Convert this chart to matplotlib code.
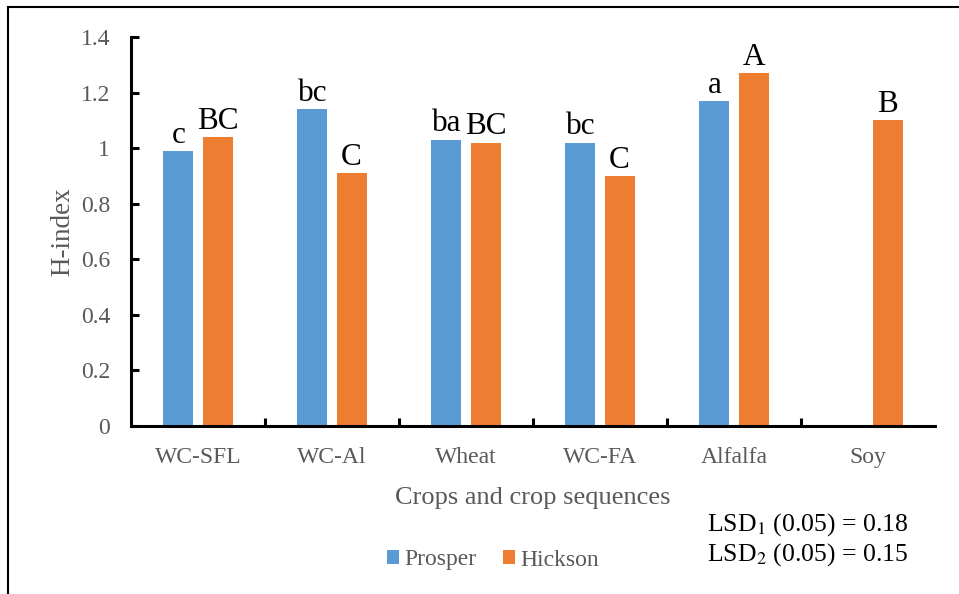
import numpy as np
import matplotlib.pyplot as plt
from matplotlib.lines import Line2D

plt.rcParams['font.family'] = ['Liberation Serif', 'DejaVu Serif']

crops = ['WC-SFL', 'WC-Al', 'Wheat', 'WC-FA', 'Alfalfa', 'Soy']
prosper = [0.99, 1.14, 1.03, 1.02, 1.17, np.nan]
hickson = [1.04, 0.91, 1.02, 0.90, 1.27, 1.10]
prosper_letters = ['c', 'bc', 'ba', 'bc', 'a', '']
hickson_letters = ['BC', 'C', 'BC', 'C', 'A', 'B']

blue = '#5B9BD5'
orange = '#ED7D31'
grey = '#595959'

fig = plt.figure(figsize=(9.59, 5.94), dpi=100)
ax = fig.add_axes([131 / 959, 1 - 426 / 594, 804 / 959, 389 / 594])

x = np.arange(len(crops))
w = 0.224
off = 0.146
ax.bar(x - off, prosper, w, color=blue, label='Prosper')
ax.bar(x + off, hickson, w, color=orange, label='Hickson')

# significance letters above each bar
for i in range(len(crops)):
    if not np.isnan(prosper[i]):
        ax.text(x[i] - off, prosper[i] + 0.03, prosper_letters[i], ha='center', va='baseline', fontsize=22.5)
    ax.text(x[i] + off, hickson[i] + 0.03, hickson_letters[i], ha='center', va='baseline', fontsize=22.5)

ax.set_xlim(-0.5, len(crops) - 0.5)
ax.set_ylim(0, 1.4)
ax.set_yticks(np.arange(0, 1.41, 0.2))
ax.set_yticklabels(['0', '0.2', '0.4', '0.6', '0.8', '1', '1.2', '1.4'])
ax.set_xticks(x)
ax.set_xticklabels(crops)
ax.set_xticks(np.arange(0.5, len(crops) - 0.5, 1), minor=True)

for s in ['top', 'right']:
    ax.spines[s].set_visible(False)
for s in ['left', 'bottom']:
    ax.spines[s].set_linewidth(2.2)
ax.tick_params(axis='y', direction='in', length=6, width=2.2, labelsize=17, colors='black', labelcolor=grey, pad=15)
ax.tick_params(axis='x', which='major', length=0, labelsize=17, labelcolor=grey, pad=15)
ax.tick_params(axis='x', which='minor', direction='in', length=6, width=2.2)

ax.set_ylabel('H-index', fontsize=19.5, color=grey, labelpad=4)
ax.set_xlabel('Crops and crop sequences', fontsize=19, color=grey, labelpad=14)

fig.legend(loc='center', bbox_to_anchor=(493 / 959, 1 - 560 / 594), ncol=2, frameon=False,
           fontsize=17, handlelength=0.5, handleheight=0.5, handletextpad=0.25, columnspacing=1.1,
           labelcolor=grey)

fig.text(707 / 959, 1 - 525 / 594, 'LSD$_1$ (0.05) = 0.18', fontsize=18.5, va='center',
         math_fontfamily='stix')
fig.text(707 / 959, 1 - 555 / 594, 'LSD$_2$ (0.05) = 0.15', fontsize=18.5, va='center',
         math_fontfamily='stix')

# frame lines along top and left edge
fig.add_artist(Line2D([8 / 959, 8 / 959], [0, 1 - 7 / 594], color='black', lw=1.5))
fig.add_artist(Line2D([8 / 959, 1], [1 - 7 / 594, 1 - 7 / 594], color='black', lw=1.5))

fig.savefig('out.png', dpi=100)
